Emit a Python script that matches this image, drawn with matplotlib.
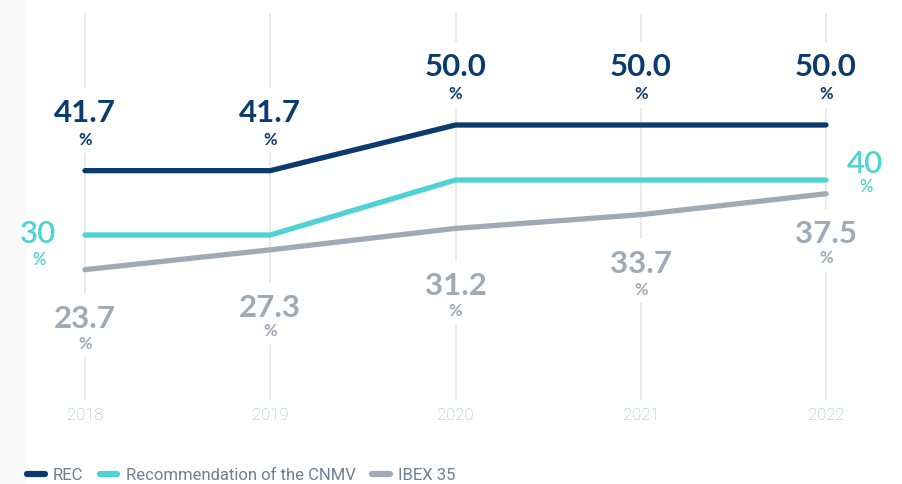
import matplotlib
matplotlib.use("Agg")
import matplotlib.pyplot as plt
from matplotlib.patches import Rectangle

years = [2018, 2019, 2020, 2021, 2022]
rec = [41.7, 41.7, 50.0, 50.0, 50.0]
cnmv = [30, 30, 40, 40, 40]
ibex = [23.7, 27.3, 31.2, 33.7, 37.5]
rec_labels = ["41.7", "41.7", "50.0", "50.0", "50.0"]
cnmv_labels = ["30", "40"]
ibex_labels = ["23.7", "27.3", "31.2", "33.7", "37.5"]
series_names = ["REC", "Recommendation of the CNMV", "IBEX 35"]

C_REC = "#0b3b6c"
C_CNMV = "#4fd2d3"
C_IBEX = "#9eaab6"
C_TICK = "#a9b4bf"
C_LEG = "#6f7f91"
C_GRID = "#e8e8e8"

W, H = 902, 484
fig = plt.figure(figsize=(W / 100, H / 100), dpi=100)
fig.patches.append(Rectangle((0, 0), 27 / W, 1, transform=fig.transFigure,
                             facecolor="#f9f9f9", edgecolor="none", zorder=-5))

# axes: value 0 at y=400px, x 2018 at 85px, 2022 at 826px
ax = fig.add_axes([0, (H - 400) / H, 1, (400 - 13) / H])
ax.patch.set_alpha(0)
pxy = 5.5
pxx = (826 - 85) / 4
ax.set_xlim(2018 - 85 / pxx, 2022 + (W - 826) / pxx)
ax.set_ylim(0, (400 - 13) / pxy)
for s in ax.spines.values():
    s.set_visible(False)
ax.set_yticks([])
ax.set_xticks(years)
ax.set_xticklabels([str(y) for y in years], fontfamily="Roboto", fontsize=12,
                   color=C_TICK, fontweight="light")
ax.tick_params(axis="x", length=0, pad=6)

ax.vlines(years, 0, ax.get_ylim()[1], color=C_GRID, lw=1.2, zorder=1)

lw = 3.8
ax.plot(years, rec, color=C_REC, lw=lw, solid_capstyle="round", zorder=3, label=series_names[0])
ax.plot(years, cnmv, color=C_CNMV, lw=lw, solid_capstyle="round", zorder=3, label=series_names[1])
ax.plot(years, ibex, color=C_IBEX, lw=lw, solid_capstyle="round", zorder=3, label=series_names[2])

PT = 72 / 100  # px -> points
num_font = dict(family="Lato", fontsize=22.5, ha="center", va="center")
pct_font = dict(family="Lato", fontsize=12, ha="center", va="center")
bb = dict(boxstyle="square,pad=0.35", facecolor="white", edgecolor="none")


def lab(x, y, txt, dx, dy, color, weight, font, box=True, zorder=2):
    ax.annotate(txt, (x, y), xytext=(dx * PT, dy * PT), textcoords="offset points",
                color=color, fontweight=weight, bbox=bb if box else None,
                zorder=zorder, annotation_clip=False, **font)


# REC labels (above)
for x, v, t in zip(years, rec, rec_labels):
    lab(x, v, t, 0, 58, C_REC, "bold", num_font)
    lab(x, v, "%", 0, 31, C_REC, "bold", pct_font)

# CNMV labels (first and last)
lab(years[0], cnmv[0], cnmv_labels[0], -47, 1, C_CNMV, "semibold", num_font, box=False)
lab(years[0], cnmv[0], "%", -46, -25, C_CNMV, "semibold", pct_font, box=False)
lab(years[-1], cnmv[-1], cnmv_labels[1], 39, 16, C_CNMV, "semibold", num_font, box=False)
lab(years[-1], cnmv[-1], "%", 40, -7, C_CNMV, "semibold", pct_font, box=False)

# IBEX labels (below)
ibex_off = [(-49, -74), (-58, -81), (-58, -83), (-49, -75), (-40, -64)]
for x, v, t, (o1, o2) in zip(years, ibex, ibex_labels, ibex_off):
    lab(x, v, t, 0, o1, C_IBEX, "bold", num_font)
    lab(x, v, "%", 0, o2, C_IBEX, "bold", pct_font)

leg = fig.legend(loc="center left", bbox_to_anchor=(12 / W, 1 - 475 / H), ncol=3,
                 frameon=False, handlelength=1.05, handletextpad=0.5, columnspacing=1.0,
                 prop=dict(family="Roboto", size=12))
for t in leg.get_texts():
    t.set_color(C_LEG)
for h in leg.get_lines():
    h.set_linewidth(4.5)
    h.set_solid_capstyle("round")

fig.savefig("out.png", dpi=100)
